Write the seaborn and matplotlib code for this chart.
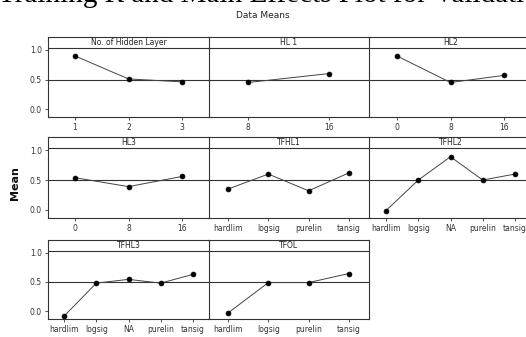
"""Main effects plot (data means) for the network configuration factors."""

import matplotlib.pyplot as plt
import seaborn as sns

# factor names, levels and mean responses
FACTORS = ["No. of Hidden Layer", "HL 1", "HL2", "HL3", "TFHL1", "TFHL2", "TFHL3", "TFOL"]

HIDDEN_LAYER_LEVELS = ["1", "2", "3"]
HIDDEN_LAYER_MEANS = [0.90, 0.51, 0.46]

HL1_LEVELS = ["8", "16"]
HL1_MEANS = [0.45, 0.60]

HL2_LEVELS = ["0", "8", "16"]
HL2_MEANS = [0.90, 0.45, 0.57]

HL3_LEVELS = ["0", "8", "16"]
HL3_MEANS = [0.54, 0.39, 0.56]

TFHL1_LEVELS = ["hardlim", "logsig", "purelin", "tansig"]
TFHL1_MEANS = [0.35, 0.60, 0.32, 0.62]

TFHL2_LEVELS = ["hardlim", "logsig", "NA", "purelin", "tansig"]
TFHL2_MEANS = [-0.01, 0.50, 0.89, 0.50, 0.60]

TFHL3_LEVELS = ["hardlim", "logsig", "NA", "purelin", "tansig"]
TFHL3_MEANS = [-0.085, 0.48, 0.545, 0.48, 0.63]

TFOL_LEVELS = ["hardlim", "logsig", "purelin", "tansig"]
TFOL_MEANS = [-0.03, 0.49, 0.49, 0.645]

OVERALL_MEAN = 0.5
Y_TICKS = [0.0, 0.5, 1.0]

PANELS = [
    (HIDDEN_LAYER_LEVELS, HIDDEN_LAYER_MEANS),
    (HL1_LEVELS, HL1_MEANS),
    (HL2_LEVELS, HL2_MEANS),
    (HL3_LEVELS, HL3_MEANS),
    (TFHL1_LEVELS, TFHL1_MEANS),
    (TFHL2_LEVELS, TFHL2_MEANS),
    (TFHL3_LEVELS, TFHL3_MEANS),
    (TFOL_LEVELS, TFOL_MEANS),
]

W, H = 526, 337
ROW_TOPS = [37, 137, 240]
ROW_BOTTOMS = [117, 218, 319]
COL_LEFTS = [48, 208, 370]
COL_WIDTH = 161
Y_MIN, Y_MAX, STRIP = -0.135, 1.22, 1.03
EDGE = "#333333"

sns.set_style("white")
plt.rcParams["font.family"] = ["DejaVu Sans"]

fig = plt.figure(figsize=(W / 100, H / 100), dpi=100)

for i, (name, (levels, means)) in enumerate(zip(FACTORS, PANELS)):
    row, col = divmod(i, 3)
    rect = [
        COL_LEFTS[col] / W,
        1 - ROW_BOTTOMS[row] / H,
        COL_WIDTH / W,
        (ROW_BOTTOMS[row] - ROW_TOPS[row]) / H,
    ]
    ax = fig.add_axes(rect)
    ax.patch.set_visible(False)
    ax.axhline(OVERALL_MEAN, color=EDGE, linewidth=0.8, zorder=1)
    ax.axhline(STRIP, color=EDGE, linewidth=0.8, zorder=1)
    sns.pointplot(
        x=levels,
        y=means,
        order=levels,
        ax=ax,
        color="black",
        linewidth=0.7,
        markersize=3.5,
        errorbar=None,
        zorder=3,
    )
    for line in ax.lines[2:]:
        line.set_color("#444444")
        line.set_markerfacecolor("black")
        line.set_markeredgecolor("black")
    ax.set_ylim(Y_MIN, Y_MAX)
    ax.set_xlim(-0.5, len(levels) - 0.5)
    ax.set_xlabel("")
    ax.set_ylabel("")
    ax.text(
        0.5,
        (STRIP + Y_MAX) / 2,
        name,
        transform=ax.get_yaxis_transform(),
        ha="center",
        va="center",
        fontsize=5.5,
        color="#222222",
    )
    for spine in ax.spines.values():
        spine.set_color(EDGE)
        spine.set_linewidth(0.8)
    if col > 0:
        ax.spines["left"].set_visible(False)
    ax.tick_params(axis="x", direction="out", length=2.5, width=0.6,
                   colors=EDGE, labelsize=5.5, pad=2, bottom=True)
    ax.set_yticks(Y_TICKS)
    if col == 0:
        ax.set_yticklabels([f"{t:.1f}" for t in Y_TICKS])
        ax.tick_params(axis="y", direction="out", length=2.5, width=0.6,
                       colors=EDGE, labelsize=5.5, pad=2, left=True)
    else:
        ax.tick_params(axis="y", left=False, labelleft=False)

fig.text(0.5, 1 - 15 / H, "Data Means", ha="center", va="center",
         fontsize=6.5, color="#222222")
fig.text(15 / W, 1 - 183 / H, "Mean", rotation=90, ha="center", va="center",
         fontsize=8, fontweight="bold", color="#111111")
fig.text(-0.004, 1 - 2 / H, "Training R and Main Effects Plot for Validation",
         ha="left", va="baseline", fontsize=21, family=["Liberation Serif"],
         color="black")

fig.savefig("out.png", dpi=100)
